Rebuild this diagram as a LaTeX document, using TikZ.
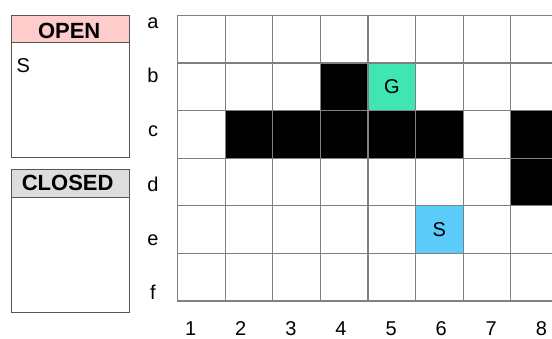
\documentclass[tikz,border=0pt]{standalone}
\usepackage{fontspec}
\setmainfont{Liberation Sans}
\definecolor{openpink}{HTML}{FFCCCC}
\definecolor{closedgray}{HTML}{DDDDDD}
\definecolor{goalgreen}{HTML}{40E5B4}
\definecolor{startblue}{HTML}{5BCBFA}
\definecolor{gridgray}{HTML}{808080}
\definecolor{boxgray}{HTML}{555555}
\newcommand\txtfree{}
\newcommand\txtwall{}
\newcommand\txtgoal{G}
\newcommand\txtstart{S}
\begin{document}
\begin{tikzpicture}[x=1pt,y=-1pt,
  every node/.style={font=\fontsize{20}{24}\selectfont},
  free/.style={draw=gridgray, line width=1.2pt, minimum width=47.6pt, minimum height=47.6pt, inner sep=0pt, anchor=north west, fill=white},
  wall/.style={free, fill=black},
  goal/.style={free, fill=goalgreen},
  start/.style={free, fill=startblue},
  panel/.style={draw=boxgray, line width=1pt, fill=white, anchor=north west, minimum width=118.6pt, inner sep=0pt},
  lbl/.style={anchor=base, inner sep=0pt},
  headtxt/.style={lbl, font=\fontsize{22}{26}\selectfont\bfseries}]
\useasboundingbox (0,0) rectangle (552,338);
\clip (0,0) rectangle (552,338);
% OPEN / CLOSED panels
\node[panel, minimum height=142pt] (openbox) at (10.7,14.7) {};
\node[panel, minimum height=27pt, fill=openpink] (openhead) at (10.7,14.7) {};
\node[headtxt] (opentxt) at (69.2,38) {OPEN};
\node[lbl, anchor=base west] (openS) at (16.5,72) {S};
\node[panel, minimum height=142.4pt] (closedbox) at (10.7,169.3) {};
\node[panel, minimum height=27.4pt, fill=closedgray] (closedhead) at (10.7,169.3) {};
\node[headtxt] (closedtxt) at (67.7,190.7) {CLOSED};
% grid
\foreach \rn/\rs [count=\i from 0] in {
  a/{free,free,free,free,free,free,free,free},
  b/{free,free,free,wall,goal,free,free,free},
  c/{free,wall,wall,wall,wall,wall,free,wall},
  d/{free,free,free,free,free,free,free,wall},
  e/{free,free,free,free,free,start,free,free},
  f/{free,free,free,free,free,free,free,free}}
{
  \foreach \st [count=\j] in \rs {
    \node[\st] (\rn\j) at ({177+47.6*(\j-1)}, {14.7+47.6*\i}) {\csname txt\st\endcsname};
  }
  \node[lbl] (row-\rn) at (153, {28.3+54.3*\i}) {\rn};
}
\foreach \j in {1,...,8} {
  \node[lbl] (col-\j) at ({190.7+50.1*(\j-1)}, 335) {\j};
}
\end{tikzpicture}
\end{document}
